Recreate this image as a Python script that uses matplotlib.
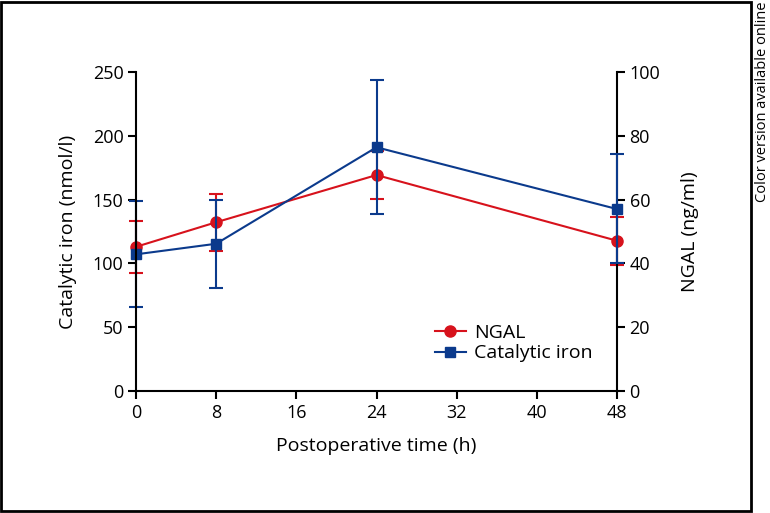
import matplotlib
matplotlib.use("Agg")
import matplotlib.pyplot as plt
from matplotlib.patches import Rectangle
from matplotlib.lines import Line2D

plt.rcParams['font.family'] = ['Open Sans', 'DejaVu Sans']

time_h = [0, 8, 24, 48]
ngal = [45.2, 52.9, 67.7, 47.1]
ngal_err = [8.1, 9.0, 7.5, 7.6]
iron = [107.1, 115.4, 191.0, 142.6]
iron_err_up = [42.0, 34.3, 52.7, 43.1]
iron_err_dn = [41.0, 34.4, 52.5, 42.6]

x_ticks = [0, 8, 16, 24, 32, 40, 48]
left_ticks = [0, 50, 100, 150, 200, 250]
right_ticks = [0, 20, 40, 60, 80, 100]

RED = '#d7121c'
BLUE = '#0b3a8c'

fig = plt.figure(figsize=(7.7, 5.13), dpi=100)
ax = fig.add_axes([136/770, 1 - 391/513, (617-136)/770, (391-72)/513])
ax2 = ax.twinx()
ax.set_zorder(ax2.get_zorder() + 1)
ax.patch.set_visible(False)

c2 = ax2.errorbar(time_h, ngal, yerr=ngal_err, color=RED, marker='o', markersize=8,
                  lw=1.5, elinewidth=1.5, capsize=5, capthick=1.5)
c1 = ax.errorbar(time_h, iron, yerr=[iron_err_dn, iron_err_up], color=BLUE, marker='s',
                 markersize=7, lw=1.5, elinewidth=1.5, capsize=5, capthick=1.5)
for cont in (c1, c2):
    for art in cont.lines:
        if art is None:
            continue
        arts = art if isinstance(art, tuple) else (art,)
        for a_ in arts:
            a_.set_clip_on(False)
    for coll in cont[2]:
        coll.set_clip_on(False)

ax.set_xlim(0, 48)
ax.set_ylim(0, 250)
ax2.set_ylim(0, 100)
ax.set_xticks(x_ticks)
ax.set_yticks(left_ticks)
ax2.set_yticks(right_ticks)

for a in (ax, ax2):
    a.spines['top'].set_visible(False)
    for s in a.spines.values():
        s.set_linewidth(1.5)
    a.tick_params(direction='out', length=6, width=1.5, labelsize=13, pad=3)
ax.spines['right'].set_visible(False)
ax2.spines['left'].set_visible(False)
ax2.spines['bottom'].set_visible(False)

ax.set_xlabel('Postoperative time (h)', fontsize=14, labelpad=11)
ax.set_ylabel('Catalytic iron (nmol/l)', fontsize=14, labelpad=11)
ax2.set_ylabel('NGAL (ng/ml)', fontsize=14, labelpad=15)

h_ngal = Line2D([], [], color=RED, marker='o', markersize=8, lw=1.5)
h_iron = Line2D([], [], color=BLUE, marker='s', markersize=7, lw=1.5)
ax.legend([h_ngal, h_iron], ['NGAL', 'Catalytic iron'], loc='lower left',
          bbox_to_anchor=(0.605, 0.065), frameon=False, fontsize=14,
          handlelength=1.6, handletextpad=0.4, labelspacing=0.15, borderaxespad=0)

fig.patches.append(Rectangle((1/770, 2/513), 750/770, 509/513, transform=fig.transFigure,
                             fill=False, edgecolor='black', lw=2))
fig.text(762/770, 1 - 2/513, 'Color version available online', rotation=90,
         ha='center', va='top', fontsize=10.5)

fig.savefig('out.png', dpi=100)
